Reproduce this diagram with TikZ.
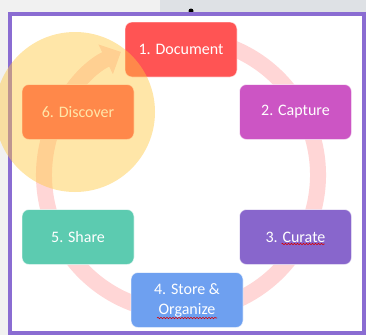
\documentclass[tikz,border=0pt]{standalone}
\usepackage{fontspec}
\setmainfont{Carlito}
\usetikzlibrary{arrows.meta,decorations.pathmorphing}

\definecolor{paper}{HTML}{F1F1F1}
\definecolor{toolbar}{HTML}{DEE1E5}
\definecolor{framepurple}{HTML}{8A6CD2}
\definecolor{ringpink}{HTML}{FFD6D6}
\definecolor{docred}{HTML}{FF5454}
\definecolor{capmagenta}{HTML}{CC55C4}
\definecolor{curpurple}{HTML}{8866CC}
\definecolor{stoblue}{HTML}{6EA0F0}
\definecolor{shateal}{HTML}{5CCBB0}
\definecolor{sunny}{HTML}{FFC940}

\begin{document}
\begin{tikzpicture}[x=1pt,y=-1pt,
                stage/.style={rectangle,rounded corners=7pt,draw=white,draw opacity=0.6,line width=0.8pt,
                  text=white,minimum width=112pt,minimum height=55pt,align=center,
                  font=\fontsize{16}{20}\selectfont},
                ring/.style={line width=16pt,draw=ringpink,-{Triangle[width=32pt,length=17pt]}},
                spell/.style={draw=red!85!black,line width=0.6pt,decorate,
                  decoration={snake,amplitude=0.7pt,segment length=3pt}}]

            \useasboundingbox (0,0) rectangle (366,335);
            \clip (0,0) rectangle (366,335);

            % page behind the slide
            \fill[paper] (0,0) rectangle (366,335);
            \fill[toolbar] (160,0) rectangle (366,12);
            \fill[black] (191,11) circle (2.5);
            \draw[framepurple, line width=4pt, fill=white] (10,14) rectangle (364,333);

            % cycle ring
            \coordinate (hub) at (181,175);
            \draw[ring] ([shift={(280:137)}]hub) arc[start angle=280, end angle=604, radius=137];

            \node[stage, fill=docred] (doc) at (181,49.5) {1. Document};
            \node[stage, fill=capmagenta] (cap) at (295.5,112) {2. Capture};
            \node[stage, fill=curpurple] (cur) at (295.5,237) {3. Curate};
            \node[stage, fill=stoblue] (sto) at (187,300) {4. Store \&\\Organize};
            \node[stage, fill=shateal] (sha) at (78,237) {5. Share};
            \node[stage, fill=docred] (dis) at (78,112) {6. Discover};

            % spell-check marks
            \draw[spell] ([xshift=-14pt, yshift=-7pt]cur.center) -- ([xshift=29pt, yshift=-7pt]cur.center);
            \draw[spell] ([xshift=-30pt, yshift=-18pt]sto.center) -- ([xshift=30pt, yshift=-18pt]sto.center);

            % highlight
            \fill[sunny, fill opacity=0.45] (75,112) circle (80);

        \end{tikzpicture}
\end{document}
